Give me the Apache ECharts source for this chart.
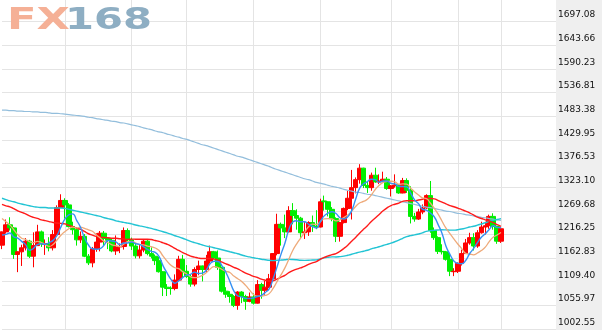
<!DOCTYPE html>
<html><head><meta charset="utf-8">
<script src="https://cdn.jsdelivr.net/npm/echarts@6/dist/echarts.min.js"></script>
<style>html,body{margin:0;padding:0;background:#fff}#c{width:602px;height:330px}</style>
</head><body><div id="c"></div>
<script>
const weeks = [
'2014-10-06','2014-10-13','2014-10-20','2014-10-27','2014-11-03','2014-11-10','2014-11-17','2014-11-24','2014-12-01','2014-12-08','2014-12-15','2014-12-22','2014-12-29',
'2015-01-05','2015-01-12','2015-01-19','2015-01-26','2015-02-02','2015-02-09','2015-02-16','2015-02-23','2015-03-02','2015-03-09','2015-03-16','2015-03-23','2015-03-30','2015-04-06','2015-04-13','2015-04-20','2015-04-27','2015-05-04','2015-05-11','2015-05-18','2015-05-25','2015-06-01','2015-06-08','2015-06-15','2015-06-22','2015-06-29','2015-07-06','2015-07-13','2015-07-20','2015-07-27','2015-08-03','2015-08-10','2015-08-17','2015-08-24','2015-08-31','2015-09-07','2015-09-14','2015-09-21','2015-09-28','2015-10-05','2015-10-12','2015-10-19','2015-10-26','2015-11-02','2015-11-09','2015-11-16','2015-11-23','2015-11-30','2015-12-07','2015-12-14','2015-12-21','2015-12-28',
'2016-01-04','2016-01-11','2016-01-18','2016-01-25','2016-02-01','2016-02-08','2016-02-15','2016-02-22','2016-02-29','2016-03-07','2016-03-14','2016-03-21','2016-03-28','2016-04-04','2016-04-11','2016-04-18','2016-04-25','2016-05-02','2016-05-09','2016-05-16','2016-05-23','2016-05-30','2016-06-06','2016-06-13','2016-06-20','2016-06-27','2016-07-04','2016-07-11','2016-07-18','2016-07-25','2016-08-01','2016-08-08','2016-08-15','2016-08-22','2016-08-29','2016-09-05','2016-09-12','2016-09-19','2016-09-26','2016-10-03','2016-10-10','2016-10-17','2016-10-24','2016-10-31','2016-11-07','2016-11-14','2016-11-21','2016-11-28','2016-12-05','2016-12-12','2016-12-19','2016-12-26',
'2017-01-02','2017-01-09','2017-01-16','2017-01-23','2017-01-30','2017-02-06','2017-02-13','2017-02-20','2017-02-27','2017-03-06','2017-03-13',
'2017-03-20','2017-03-27','2017-04-03','2017-04-10','2017-04-17','2017-04-24','2017-05-01','2017-05-08','2017-05-15','2017-05-22','2017-05-29','2017-06-05','2017-06-12','2017-06-19'];

const gridWeeks = ['2015-01-26','2015-05-25','2015-08-31','2015-12-28','2016-04-25','2016-08-29','2016-12-26','2017-03-13'];

const opens = [1192,1222,1238,1231,1171,1177,1186,1201,1167,1191, 1222,1194,1195,1186,1216,1277,1293,1283,1234,1227, 1204,1212,1167,1152,1184,1199,1219,1207,1203,1179, 1188,1189,1225,1204,1190,1168,1181,1201,1173,1167, 1157,1132,1097,1095,1094,1113,1160,1133,1121,1104, 1137,1145,1137,1156,1177,1163,1142,1088,1081,1076, 1056,1086,1076,1065,1075,1061,1103,1090,1097,1116, 1173,1239,1231,1222,1270,1259,1253,1220,1222,1243, 1235,1233,1292,1290,1273,1252,1212,1243,1275,1298, 1322,1340,1366,1327,1322,1350,1335,1337,1341,1320, 1326,1328,1310,1338,1316,1257,1251,1267,1276,1304, 1225,1209,1178,1177,1160,1132,1133,1151,1173,1197, 1209,1190,1220,1233,1236,1257,1234,1201];
const closes = [1222,1238,1231,1171,1177,1186,1201,1167,1191,1222, 1195,1195,1186,1216,1277,1293,1283,1234,1227,1204, 1212,1167,1152,1184,1199,1219,1207,1203,1179,1188, 1189,1225,1204,1190,1168,1181,1201,1173,1167,1157, 1132,1097,1094,1094,1113,1160,1133,1121,1104,1137, 1145,1137,1156,1177,1163,1142,1088,1081,1076,1056, 1086,1076,1065,1075,1061,1103,1090,1097,1116,1173, 1239,1231,1222,1270,1259,1253,1220,1222,1243,1235, 1233,1290,1290,1273,1252,1212,1243,1275,1298,1322, 1340,1366,1327,1322,1350,1335,1337,1341,1320,1326, 1328,1310,1338,1316,1257,1251,1267,1276,1304,1225, 1209,1178,1177,1160,1133,1133,1151,1173,1197,1209, 1190,1220,1233,1236,1257,1234,1201,1229];
const lows = [1183,1218,1225,1161,1131,1145,1180,1163,1142,1190, 1188,1170,1178,1180,1214,1276,1252,1232,1216,1191, 1197,1165,1147,1142,1177,1178,1192,1183,1176,1170, 1174,1182,1200,1181,1162,1162,1176,1169,1162,1147, 1130,1077,1077,1080,1090,1110,1118,1118,1098,1099, 1124,1110,1131,1150,1160,1136,1085,1073,1062,1052, 1046,1061,1046,1063,1058,1060,1071,1080,1095,1111, 1169,1191,1208,1221,1239,1227,1208,1206,1213,1222, 1228,1232,1270,1257,1246,1199,1200,1241,1271,1250, 1309,1331,1321,1310,1315,1333,1330,1335,1317,1302, 1322,1308,1309,1310,1241,1245,1249,1262,1274,1220, 1204,1172,1171,1157,1122,1122,1129,1146,1172,1193, 1180,1186,1218,1216,1229,1227,1195,1197];
const highs = [1223,1250,1255,1233,1178,1193,1208,1204,1221,1238, 1225,1205,1210,1226,1282,1307,1298,1287,1245,1233, 1223,1217,1172,1188,1219,1224,1224,1209,1208,1214, 1196,1232,1230,1209,1197,1193,1205,1204,1187,1171, 1166,1133,1104,1099,1126,1168,1170,1147,1125,1142, 1157,1146,1170,1191,1179,1180,1143,1097,1088,1079, 1088,1088,1080,1085,1083,1113,1107,1111,1127,1174, 1263,1243,1261,1280,1287,1273,1256,1244,1246,1259, 1271,1297,1304,1291,1278,1255,1245,1277,1315,1362, 1345,1375,1367,1336,1356,1367,1352,1358,1346,1328, 1352,1330,1344,1343,1325,1265,1274,1284,1307,1337, 1232,1212,1194,1179,1174,1140,1153,1182,1206,1220, 1219,1226,1245,1245,1261,1264,1236,1233];

const ma5 = [1214.8,1216.4,1219.4,1210.8,1207.8,1200.6,1193.2,1180.4,1184.4,1193.4, 1195.2,1194,1197.8,1202.8,1213.8,1233.4,1251,1260.6,1262.8,1248.2, 1232,1208.8,1192.4,1183.8,1182.8,1184.2,1192.2,1202.4,1201.4,1199.2, 1193.2,1196.8,1197,1199.2,1195.2,1193.6,1188.8,1182.6,1178,1175.8, 1166,1145.2,1129.4,1114.8,1106,1111.6,1118.8,1124.2,1126.2,1131, 1128,1128.8,1135.8,1150.4,1155.6,1155,1145.2,1130.2,1110,1088.6, 1077.4,1075,1071.8,1071.6,1072.6,1076,1078.8,1085.2,1093.4,1115.8, 1143,1171.2,1196.2,1227,1244.2,1247,1244.8,1244.8,1239.4,1234.6, 1230.6,1244.6,1258.2,1264.2,1267.6,1263.4,1254,1251,1256,1270, 1295.6,1320.2,1330.6,1335.4,1341,1340,1334.2,1337,1336.6,1331.8, 1330.4,1325,1324.4,1323.6,1309.8,1294.4,1285.8,1273.4,1271,1264.6, 1256.2,1238.4,1218.6,1189.8,1171.4,1156.2,1150.8,1150,1157.4,1172.6, 1184,1197.8,1209.8,1217.6,1227.2,1236,1232.2,1231.4];
const ma10 = [1252.3,1245.1,1237.8,1226.9,1215.9,1207.7,1204.8,1199.9,1197.6,1200.6, 1197.9,1193.6,1189.1,1193.6,1203.6,1214.3,1222.5,1229.2,1232.8,1231, 1232.7,1229.9,1226.5,1223.3,1215.5,1208.1,1200.5,1197.4,1192.6,1191, 1188.7,1194.5,1199.7,1200.3,1197.2,1193.4,1192.8,1189.8,1188.6,1185.5, 1179.8,1167,1156,1146.4,1140.9,1138.8,1132,1126.8,1120.5,1118.5, 1119.8,1123.8,1130,1138.3,1143.3,1141.5,1137,1133,1130.2,1122.1, 1116.2,1110.1,1101,1090.8,1080.6,1076.7,1076.9,1078.5,1082.5,1094.2, 1109.5,1125,1140.7,1160.2,1180,1195,1208,1220.5,1233.2,1239.4, 1238.8,1244.7,1251.5,1251.8,1251.1,1247,1249.3,1254.6,1260.1,1268.8, 1279.5,1287.1,1290.8,1295.7,1305.5,1317.8,1327.2,1333.8,1336,1336.4, 1335.2,1329.6,1330.7,1330.1,1320.8,1312.4,1305.4,1298.9,1297.3,1287.2, 1275.3,1262.1,1246,1230.4,1218,1206.2,1194.6,1184.3,1173.6,1172, 1170.1,1174.3,1179.9,1187.5,1199.9,1210,1215,1220.6];
const ma30 = [1284.1,1280.8,1278.7,1274.3,1269.6,1266,1262.7,1258.2,1254.9,1252.6, 1249.3,1247.5,1245.3,1243.3,1242,1241.2,1240,1236.6,1233.8,1230.4, 1227.6,1222.9,1217.8,1214.6,1211.7,1210,1209.3,1208.8,1207.7,1207.5, 1206.4,1206,1205.1,1205.7,1205.4,1205.3,1205.3,1205.5,1204.7,1202.5, 1200.4,1197.1,1194.1,1190,1184.5,1180.1,1175.1,1171.3,1167.2,1165, 1162.8,1161.8,1161.9,1161.7,1160.5,1157.9,1153.9,1149.9,1146.4,1142, 1138.6,1133.6,1129,1125.2,1121.6,1119,1115.3,1112.8,1111.1,1111.6, 1115.2,1119.6,1123.9,1129.8,1134.6,1137.7,1140.6,1144,1148.6,1151.9, 1154.8,1159.9,1164.4,1167.6,1170.6,1172.9,1178.1,1184.5,1191.9,1200.8, 1209.3,1218.9,1227.7,1235.9,1245.5,1253.3,1261.5,1269.6,1276.4,1281.5, 1284.5,1287.1,1291,1292.5,1292.5,1292.4,1294,1295.8,1297.8,1297.5, 1296.7,1292.9,1289.2,1285.4,1281.4,1278.8,1275.7,1272.3,1269,1265.2, 1260.2,1255.3,1252.2,1249.3,1246.2,1242.9,1238.3,1234.6];
const ma60 = [1298,1295,1292,1290,1287,1285,1283,1281,1279,1278, 1277,1277,1276,1276,1276,1276,1275,1273,1271,1269, 1267,1265,1263,1261,1259,1257,1254,1252,1250,1247, 1245.3,1243.4,1241.9,1240,1237.5,1235.7,1234,1231.9,1229.8,1227.5, 1224.9,1222.3,1219.7,1216.7,1213.3,1210.7,1207.6,1204,1200.5,1197.7, 1195.2,1192.3,1189.9,1188.1,1186.1,1184,1181.6,1179.4,1177.1,1174.8, 1172.5,1169.8,1167.1,1165.5,1163.5,1162.1,1160.3,1159.1,1157.9,1157.1, 1157.8,1158.4,1159,1159.9,1159.6,1158.9,1157.9,1157.7,1157.9,1158.5, 1158.8,1160.9,1163.2,1164.6,1165.5,1165.4,1166,1167.2,1169.2,1171.4, 1173.9,1176.3,1178.3,1180.5,1183.6,1186.1,1188.4,1191.2,1193.8,1196.6, 1199.8,1203.4,1207.5,1211.2,1213.6,1215.1,1217.3,1219.9,1223.2,1224.7, 1225.8,1226.4,1226.8,1226.5,1226,1225.9,1226.9,1228.4,1230.5,1233, 1234.7,1237.1,1239.9,1242.6,1245.9,1248.1,1249.9,1252.1];
const ma200 = [1497,1497,1496,1496,1495,1495,1494,1494,1493, 1493,1492,1492,1491,1490,1490,1489,1488, 1487,1486,1485,1484,1483,1481,1480,1478, 1477,1475,1474,1472,1471,1469,1468,1466, 1464,1462,1460,1457,1455,1453,1450,1448, 1446,1443,1441,1438,1436,1433,1431,1428, 1425,1422,1419,1417,1414,1411,1408,1405, 1402,1399,1396,1393,1391,1388,1385,1382, 1379,1376,1373,1370,1366,1363,1360,1357, 1354,1351,1348,1345,1342,1340,1337,1334, 1332,1330,1327,1325,1323,1321,1318,1316, 1314,1312,1311,1309,1307,1306,1304,1302, 1300,1298,1296,1294,1292,1290,1288,1286, 1284,1282,1280,1278,1277,1275,1273,1271, 1269,1268,1266,1264,1263,1261,1260,1258, 1257,1255,1254,1252,1251,1249,1248];

const tickLabels = ['1002.55','1055.97','1109.40','1162.83','1216.25','1269.68','1323.10','1376.53','1429.95','1483.38','1536.81','1590.23','1643.66','1697.08'];
const yBottom = 1002.55, yStep = 53.4254, ySteps = 14;

const candles = opens.map((o, i) => [o, closes[i], lows[i], highs[i]]);
const chart = echarts.init(document.getElementById('c'), null, {renderer: 'canvas'});
const gridLine = {color: '#e4e4e4', width: 1};
const lineS = (name, data, color, width) => ({
  name, type: 'line', data, symbol: 'none', smooth: true, z: 3, silent: true,
  lineStyle: {color, width}
});
chart.setOption({
  animation: false,
  backgroundColor: '#ffffff',
  grid: {left: 2, right: 46, top: -2, bottom: 1, containLabel: false, outerBoundsMode: 'none'},
  xAxis: {
    type: 'category', data: weeks, boundaryGap: false,
    axisLine: {show: false}, axisTick: {show: false}, axisLabel: {show: false},
    splitLine: {show: true, interval: (i, v) => gridWeeks.includes(v), lineStyle: gridLine}
  },
  yAxis: [
    {type: 'value', min: yBottom, max: yBottom + yStep * ySteps, show: false, splitLine: {show: false}},
    {type: 'value', position: 'right', min: 0, max: ySteps, interval: 1,
     axisLine: {show: false}, axisTick: {show: false},
     splitLine: {show: true, lineStyle: gridLine},
     axisLabel: {show: true, margin: 2, color: '#111', fontSize: 9, fontFamily: 'DejaVu Sans',
       verticalAlign: 'bottom', padding: [0, 0, 2, 0],
       formatter: v => tickLabels[v] || ''}}
  ],
  graphic: [
    {type: 'rect', right: 0, top: 0, z: -10, shape: {width: 46, height: 330}, style: {fill: '#efefef'}},
    {type: 'text', x: 7, y: 21, scaleX: 1.44, z: 5, style: {text: 'FX', fill: '#f5b096', font: 'bold 30px "DejaVu Sans"', verticalAlign: 'middle'}},
    {type: 'text', x: 65, y: 21, scaleX: 1.39, z: 5, style: {text: '168', fill: '#8eaec3', font: 'bold 30px "DejaVu Sans"', verticalAlign: 'middle'}}
  ],
  series: [
    {name: 'K', type: 'candlestick', data: candles, barWidth: 5, clip: false, z: 2,
     itemStyle: {color: '#ff0000', color0: '#00ee00', borderColor: '#ff0000', borderColor0: '#00ee00', borderWidth: 1}},
    lineS('MA200', ma200, '#93bedc', 1.2),
    lineS('MA60', ma60, '#22c4d4', 1.4),
    lineS('MA30', ma30, '#ff1a1a', 1.4),
    lineS('MA10', ma10, '#eeaa7a', 1.3),
    lineS('MA5', ma5, '#3590f3', 1.4)
  ]
});
</script></body></html>
